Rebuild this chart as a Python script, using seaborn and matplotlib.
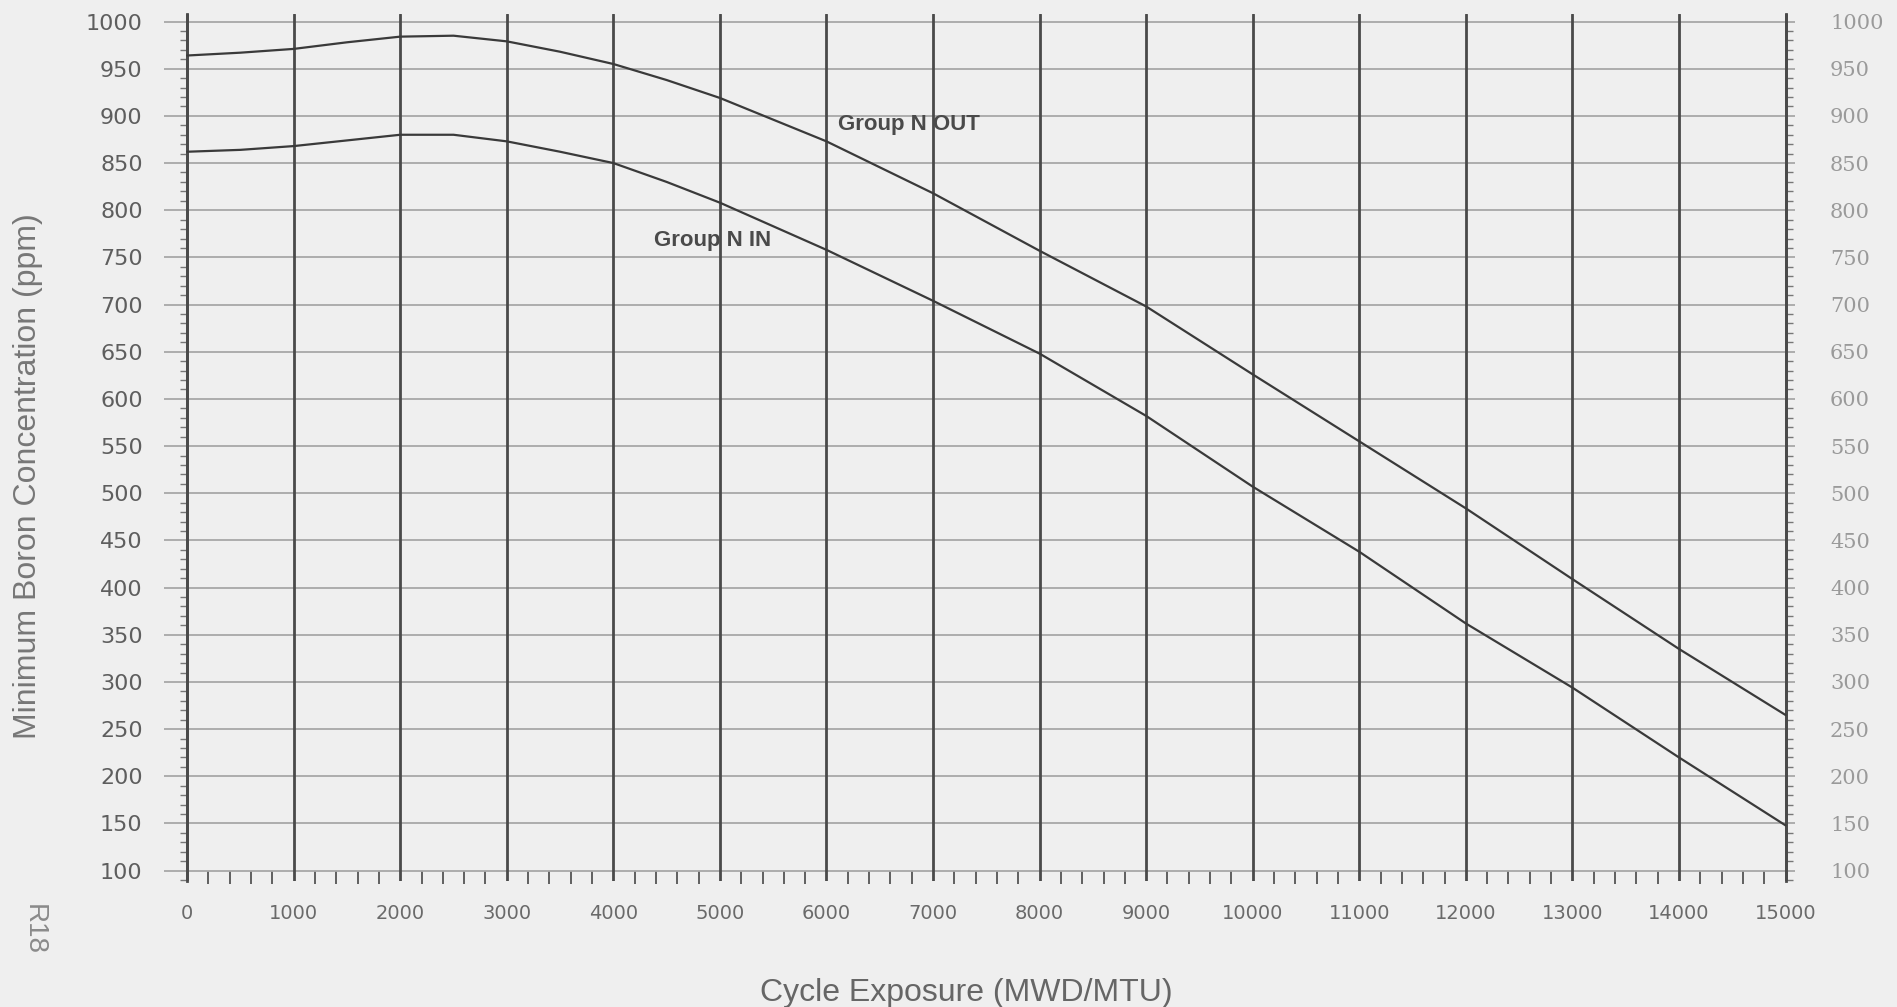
import matplotlib
matplotlib.use("Agg")
import matplotlib.pyplot as plt
from matplotlib.ticker import MultipleLocator, FixedLocator
import seaborn as sns
import pandas as pd

# Cycle exposure (MWD/MTU)
exposure = [0, 500, 1000, 1500, 2000, 2500, 3000, 3500, 4000, 4500, 5000,
            6000, 7000, 8000, 9000, 10000, 11000, 12000, 13000, 14000, 15000]
# Minimum boron concentration (ppm)
boron_out = [964, 967, 971, 978, 984, 985, 979, 968, 955, 938, 919,
             873, 818, 757, 698, 626, 555, 484, 409, 335, 265]
boron_in = [862, 864, 868, 874, 880, 880, 873, 862, 850, 830, 808,
            758, 704, 648, 582, 507, 438, 362, 294, 220, 148]
series_names = ["Group N OUT", "Group N IN"]

x_ticks = list(range(0, 15001, 1000))
x_minor = [v for v in range(200, 15000, 200) if v % 1000]
y_ticks = list(range(100, 1001, 50))

df = pd.DataFrame({
    "exposure": exposure * 2,
    "boron": boron_out + boron_in,
    "series": [series_names[0]] * len(exposure) + [series_names[1]] * len(exposure),
})

sns.set_theme(style="white")
plt.rcParams["font.family"] = ["Liberation Sans", "DejaVu Sans"]

bg = "#efefef"
fig = plt.figure(figsize=(18.97, 10.07), dpi=100, facecolor=bg)
ax = fig.add_axes([0.0865, 0.1251, 0.8598, 0.8610])
ax.set_facecolor(bg)

# horizontal grid every 50 ppm, vertical grid every 1000 MWD/MTU
for yv in y_ticks:
    ax.axhline(yv, color="#a8a8a8", lw=1.3, zorder=1)
for xv in x_ticks:
    ax.axvline(xv, color="#4a4a4a", lw=2.0, zorder=2)

sns.lineplot(data=df, x="exposure", y="boron", hue="series",
             palette=["#3a3a3a", "#3a3a3a"], linewidth=1.6,
             legend=False, ax=ax, zorder=3)

ax.set_xlim(-216, 15090)
ax.set_ylim(89, 1008)

for s in ["top", "bottom"]:
    ax.spines[s].set_visible(False)
ax.spines["left"].set_position(("data", 0))
ax.spines["right"].set_position(("data", 15000))
ax.spines["bottom"].set_position(("data", 100))
for s in ["left", "right"]:
    ax.spines[s].set_color("#4a4a4a")
    ax.spines[s].set_linewidth(2.0)

ax.yaxis.set_major_locator(FixedLocator(y_ticks))
ax.yaxis.set_minor_locator(MultipleLocator(10))
ax.tick_params(axis="y", which="major", left=True, right=True, labelleft=True,
               labelright=True, length=0, pad=32)
ax.tick_params(axis="y", which="minor", left=True, right=True, length=5,
               width=1, color="#777777", direction="out")
for tick in ax.yaxis.get_major_ticks():
    tick.label1.set_fontfamily("DejaVu Sans")
    tick.label1.set_fontsize(16)
    tick.label1.set_color("#5e5e5e")
    tick.label2.set_fontfamily("DejaVu Serif")
    tick.label2.set_fontsize(15)
    tick.label2.set_color("#9a9a9a")

ax.xaxis.set_major_locator(FixedLocator(x_ticks))
ax.xaxis.set_minor_locator(FixedLocator(x_minor))
ax.tick_params(axis="x", which="major", bottom=True, length=0, pad=24)
ax.tick_params(axis="x", which="minor", bottom=True, length=9, width=1.3,
               color="#555555", direction="out")
for tick in ax.xaxis.get_major_ticks():
    tick.label1.set_fontfamily("DejaVu Sans")
    tick.label1.set_fontsize(14)
    tick.label1.set_color("#6a6a6a")

ax.set_xlabel("Cycle Exposure (MWD/MTU)", fontsize=23, color="#666666")
ax.set_ylabel("Minimum Boron Concentration (ppm)", fontsize=23,
              color="#777777")
ax.xaxis.set_label_coords(0.492, -0.112)
ax.yaxis.set_label_coords(-0.0742, 0.467)

ax.text(6110, 891, series_names[0], fontsize=16, fontweight="bold",
        color="#4a4a4a", va="center", ha="left", zorder=4)
ax.text(4380, 768, series_names[1], fontsize=16, fontweight="bold",
        color="#4a4a4a", va="center", ha="left", zorder=4)

fig.text(0.018, 0.077, "R18", rotation=-90, fontsize=20, color="#8a8a8a",
         ha="center", va="center")

fig.savefig("out.png", dpi=100, facecolor=bg)
